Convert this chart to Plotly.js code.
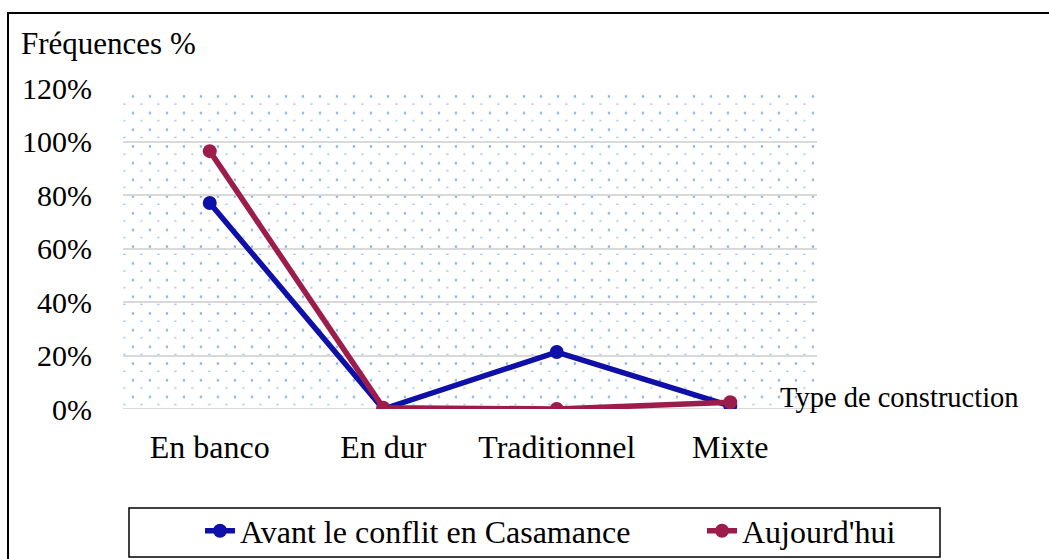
<!DOCTYPE html>
<html>
<head>
<meta charset="utf-8">
<script src="https://cdn.plot.ly/plotly-3.0.1.min.js"></script>
<style>
  html, body { margin: 0; padding: 0; background: #ffffff; }
  #chart { width: 1049px; height: 559px; }
</style>
</head>
<body>
<div id="chart"></div>
<script>
// ---- Data ----
const categories = ["En banco", "En dur", "Traditionnel", "Mixte"];
const avantConflit = [0.77, 0.0, 0.213, 0.012];
const aujourdhui = [0.964, 0.005, 0.0, 0.025];
const seriesNames = ["Avant le conflit en Casamance", "Aujourd'hui"];
const yTickValues = [0, 0.2, 0.4, 0.6, 0.8, 1.0, 1.2];
const yAxisLabel = "Fréquences %";
const xAxisLabel = "Type de construction";

// ---- Geometry ----
const W = 1049, H = 559;
const M = { l: 123, r: 232, t: 88, b: 150 };
const PW = W - M.l - M.r, PH = H - M.t - M.b;
const px = x => (x - M.l) / PW;          // pixel -> paper x
const py = y => (H - M.b - y) / PH;      // pixel -> paper y

// dotted background pattern as an SVG data URI
const patW = 17, patH = 16.7;
const svgPat =
  '<svg xmlns="http://www.w3.org/2000/svg" width="' + PW + '" height="' + PH + '">' +
  '<defs><pattern id="p" x="0" y="0" width="' + patW + '" height="' + patH + '" patternUnits="userSpaceOnUse">' +
  '<rect x="8.8" y="7.2" width="2.3" height="2.3" fill="#83b1e6"/>' +
  '<rect x="0.3" y="15.4" width="2.2" height="1.6" fill="#9ac0ec"/>' +
  '</pattern></defs>' +
  '<rect width="100%" height="100%" fill="url(#p)"/></svg>';
const patURI = 'data:image/svg+xml;charset=utf-8,' + encodeURIComponent(svgPat);

const FONT = "Liberation Serif";
const blue = "#0f10a8";
const red = "#9c1d4c";

const traces = [
  {
    x: categories, y: avantConflit, name: seriesNames[0],
    type: "scatter", mode: "lines+markers", legend: "legend",
    line: { color: blue, width: 5.5 },
    marker: { color: blue, size: 14 }
  },
  {
    x: categories, y: aujourdhui, name: seriesNames[1],
    type: "scatter", mode: "lines+markers", legend: "legend2",
    line: { color: red, width: 5.5 },
    marker: { color: red, size: 14 }
  }
];

const legendBase = {
  orientation: "h",
  xref: "container", yref: "container",
  xanchor: "left",
  y: (H - 531) / H, yanchor: "middle",
  bgcolor: "rgba(0,0,0,0)",
  borderwidth: 0,
  font: { family: FONT, size: 32, color: "#000000" }
};

const layout = {
  width: W, height: H,
  margin: M,
  paper_bgcolor: "#ffffff",
  plot_bgcolor: "rgba(0,0,0,0)",
  font: { family: FONT, size: 30, color: "#000000" },
  showlegend: true,
  legend: Object.assign({}, legendBase, { x: 200 / W }),
  legend2: Object.assign({}, legendBase, { x: 702 / W }),
  xaxis: {
    type: "category",
    range: [-0.5, 3.5],
    showgrid: false, zeroline: false, showline: false,
    ticks: "outside", ticklen: 0, tickcolor: "rgba(0,0,0,0)",
    ticklabelstandoff: 10,
    tickfont: { family: FONT, size: 32, color: "#000000" },
    fixedrange: true
  },
  yaxis: {
    range: [0, 1.2],
    tickvals: yTickValues,
    tickformat: ".0%",
    showgrid: true, gridcolor: "#d9d9d9", gridwidth: 2,
    zeroline: false, showline: false,
    ticks: "outside", ticklen: 0, tickcolor: "rgba(0,0,0,0)",
    ticklabelstandoff: 24,
    tickfont: { family: FONT, size: 30, color: "#000000" },
    fixedrange: true
  },
  images: [{
    source: patURI,
    xref: "paper", yref: "paper",
    x: 0, y: 1, sizex: 1, sizey: 1,
    xanchor: "left", yanchor: "top",
    sizing: "stretch", layer: "below"
  }],
  shapes: [
    // outer chart border (left and top visible)
    { type: "rect", xref: "paper", yref: "paper",
      x0: px(8), x1: px(1060), y0: py(570), y1: py(13),
      line: { color: "#000000", width: 2 }, fillcolor: "rgba(0,0,0,0)", layer: "above" },
    // legend box
    { type: "rect", xref: "paper", yref: "paper",
      x0: px(129), x1: px(940), y0: py(557), y1: py(508),
      line: { color: "#000000", width: 1.5 }, fillcolor: "rgba(0,0,0,0)", layer: "above" },
    // zero gridline
    { type: "line", xref: "paper", yref: "y",
      x0: 0, x1: 1, y0: 0, y1: 0,
      line: { color: "#d9d9d9", width: 2 }, layer: "below" }
  ],
  annotations: [
    { text: yAxisLabel, xref: "paper", yref: "paper",
      x: px(19), y: py(43), xanchor: "left", yanchor: "middle",
      showarrow: false, font: { family: FONT, size: 31, color: "#000000" } },
    { text: xAxisLabel, xref: "paper", yref: "paper",
      x: px(778), y: py(397), xanchor: "left", yanchor: "middle",
      showarrow: false, font: { family: FONT, size: 28.5, color: "#000000" } }
  ]
};

Plotly.newPlot("chart", traces, layout, { displayModeBar: false, staticPlot: true });
</script>
</body>
</html>
